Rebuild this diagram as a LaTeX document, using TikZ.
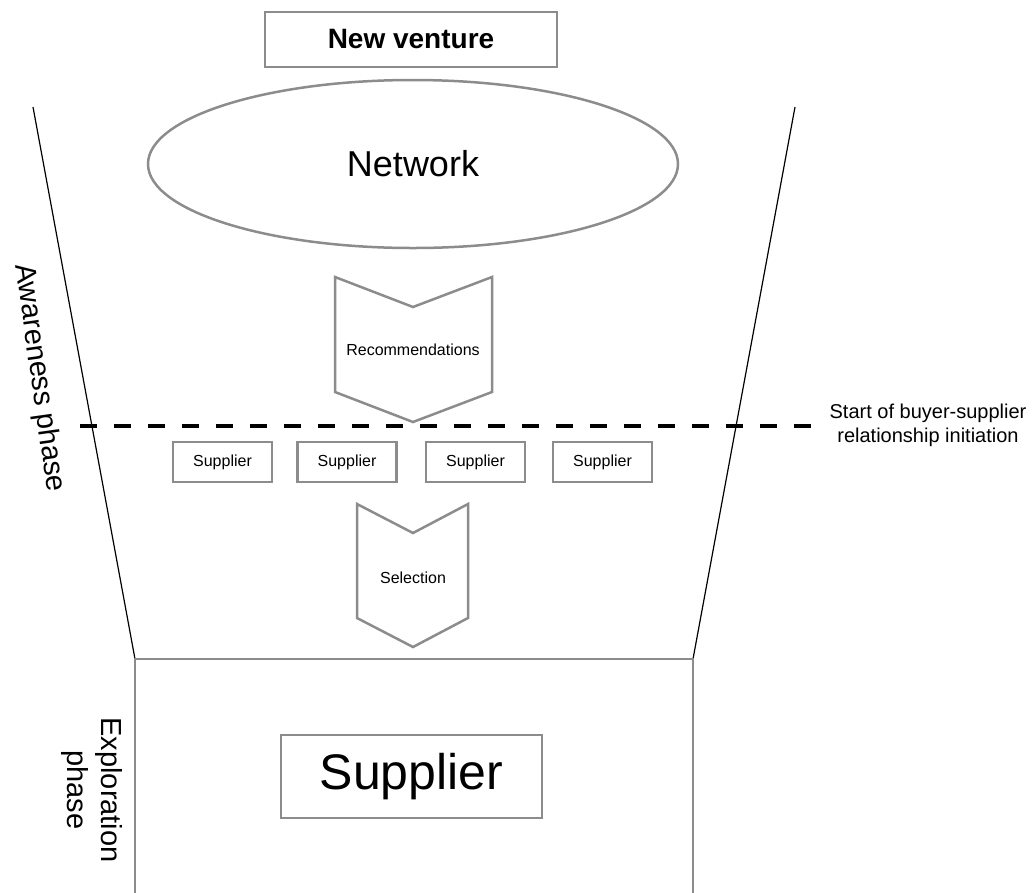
\documentclass[tikz,border=0pt]{standalone}
\usepackage{fontspec}
\setmainfont{Liberation Sans}
\usetikzlibrary{shapes.geometric}
\definecolor{boxgray}{RGB}{140,140,140}
\newcommand{\fs}[2]{\fontsize{#1}{#2}\selectfont}
\tikzset{
  grayline/.style={draw=boxgray, line width=2.5pt},
  smallbox/.style={grayline, fill=white, minimum width=99pt, minimum height=40pt, inner sep=0pt, font=\fs{16}{19}},
  funnel/.style={draw=black, line width=1.2pt},
  chevlabel/.style={font=\fs{16}{19}, inner sep=0pt},
  phaselabel/.style={font=\fs{29}{34}, align=center, inner sep=0pt},
}
\begin{document}
\begin{tikzpicture}[x=1pt, y=-1pt]
\useasboundingbox (0,0) rectangle (1035,892);
\begin{scope}
\clip (0,0) rectangle (1035,892);

% funnel sides
\coordinate (ltop) at (33,107);
\coordinate (lbot) at (135,659);
\coordinate (rtop) at (795,107);
\coordinate (rbot) at (693,659);
\draw[funnel] (ltop) -- (lbot);
\draw[funnel] (rtop) -- (rbot);

% exploration area (open towards the bottom)
\draw[grayline] (135,910) -- (lbot) -- (rbot) -- (693,910);

% top box
\node[grayline, minimum width=292pt, minimum height=55pt, inner sep=0pt, font=\bfseries\fs{28}{33}] (venture) at (411,39.5) {New venture};

% network ellipse
\node[grayline, ellipse, minimum width=530pt, minimum height=168pt, inner sep=0pt, font=\fs{36}{43}] (network) at (413,164) {Network};

% recommendations chevron
\coordinate (r1) at (335,277);
\coordinate (r2) at (413,307);
\coordinate (r3) at (492,277);
\coordinate (r4) at (492,392);
\coordinate (r5) at (413,422);
\coordinate (r6) at (335,392);
\draw[grayline, line join=miter] (r1) -- (r2) -- (r3) -- (r4) -- (r5) -- (r6) -- cycle;
\node[chevlabel] (recom) at (413,350) {Recommendations};

% initiation line
\coordinate (dstart) at (80,426);
\coordinate (dend) at (822,426);
\draw[line width=4pt, dash pattern=on 17pt off 17pt] (dstart) -- (dend);
\node[font=\fs{20}{24}, align=center, inner sep=0pt] (initlabel) at (928,425) {Start of buyer-supplier\\relationship initiation};

% candidate suppliers
\node[smallbox] (s1) at (222.5,462) {Supplier};
\node[smallbox] (s2) at (347,462) {Supplier};
\node[smallbox] (s3) at (475.5,462) {Supplier};
\node[smallbox] (s4) at (602.5,462) {Supplier};

% selection chevron
\coordinate (c1) at (357,504);
\coordinate (c2) at (413,533);
\coordinate (c3) at (468,504);
\coordinate (c4) at (468,618);
\coordinate (c5) at (413,647);
\coordinate (c6) at (357,618);
\draw[grayline, line join=miter] (c1) -- (c2) -- (c3) -- (c4) -- (c5) -- (c6) -- cycle;
\node[chevlabel] (select) at (413,578) {Selection};

% chosen supplier
\node[grayline, minimum width=261pt, minimum height=83pt, inner sep=0pt, font=\fs{50}{60}] (chosen) at (411.5,776.5) {Supplier};

% phase labels
\node[phaselabel, rotate=-82] (aware) at (39,378) {Awareness phase};
\node[phaselabel, rotate=-90] (explore) at (92,790) {Exploration\\phase};
\end{scope}
\end{tikzpicture}
\end{document}
